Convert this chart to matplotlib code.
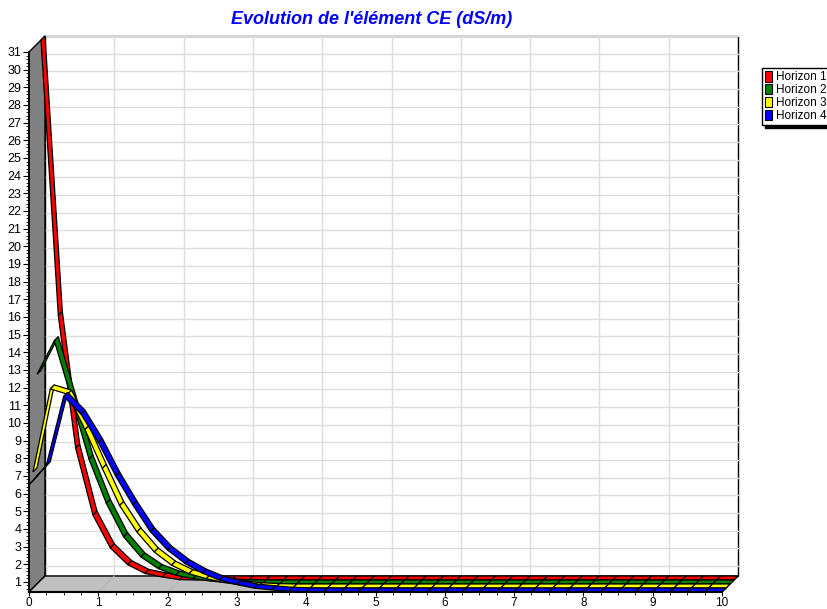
import matplotlib
matplotlib.use("Agg")
import numpy as np
import matplotlib.pyplot as plt
from matplotlib.patches import Polygon, Patch
from matplotlib.ticker import MultipleLocator

plt.rcParams['font.family'] = ['Liberation Sans', 'DejaVu Sans']

# data (one point every 0.25)
x_vals = np.linspace(0, 10, 41)

horizon_1 = [31.0, 15.4, 7.9, 4.1, 2.25, 1.3, 0.8, 0.6, 0.45, 0.43,
             0.43, 0.43, 0.43, 0.43, 0.43, 0.43, 0.43, 0.43, 0.43, 0.43,
             0.43, 0.43, 0.43, 0.43, 0.43, 0.43, 0.43, 0.43, 0.43, 0.43,
             0.43, 0.43, 0.43, 0.43, 0.43, 0.43, 0.43, 0.43, 0.43, 0.43,
             0.43]
horizon_2 = [12.3, 14.2, 10.9, 7.5, 5.0, 3.1, 1.96, 1.3, 0.93, 0.73,
             0.6, 0.5, 0.45, 0.43, 0.43, 0.43, 0.43, 0.43, 0.43, 0.43,
             0.43, 0.43, 0.43, 0.43, 0.43, 0.43, 0.43, 0.43, 0.43, 0.43,
             0.43, 0.43, 0.43, 0.43, 0.43, 0.43, 0.43, 0.43, 0.43, 0.43,
             0.43]
horizon_3 = [7.0, 11.7, 11.4, 9.4, 7.2, 5.1, 3.6, 2.47, 1.72, 1.24,
             0.96, 0.75, 0.6, 0.5, 0.45, 0.43, 0.43, 0.43, 0.43, 0.43,
             0.43, 0.43, 0.43, 0.43, 0.43, 0.43, 0.43, 0.43, 0.43, 0.43,
             0.43, 0.43, 0.43, 0.43, 0.43, 0.43, 0.43, 0.43, 0.43, 0.43,
             0.43]
horizon_4 = [6.5, 7.6, 11.5, 10.5, 8.9, 7.0, 5.35, 3.85, 2.8, 2.05,
             1.5, 1.1, 0.85, 0.65, 0.55, 0.47, 0.44, 0.43, 0.43, 0.43,
             0.43, 0.43, 0.43, 0.43, 0.43, 0.43, 0.43, 0.43, 0.43, 0.43,
             0.43, 0.43, 0.43, 0.43, 0.43, 0.43, 0.43, 0.43, 0.43, 0.43,
             0.43]

labels = ["Horizon 1", "Horizon 2", "Horizon 3", "Horizon 4"]
colors = ["#ff0000", "#008000", "#ffff00", "#0000ff"]
series = [horizon_1, horizon_2, horizon_3, horizon_4]

DEPTH = 16  # pixels of fake 3D depth
W, H = 828, 609

fig = plt.figure(figsize=(W / 100, H / 100), dpi=100)
ax = fig.add_axes([29 / W, 17 / H, 693 / W, 540 / H])
ymin = min(min(s) for s in series)
ymax = max(max(s) for s in series)
ax.set_xlim(0, 10)
ax.set_ylim(ymin, ymax)
ax.patch.set_visible(False)


def shifted(xs, ys, d):
    # push data points back by d pixels (right and up) and return data coords
    pts = ax.transData.transform(np.column_stack([xs, ys]))
    pts = pts + np.array([d, d])
    return ax.transData.inverted().transform(pts)


def poly(xs, ys, ds, **kw):
    pts = np.vstack([shifted([x], [y], d) for x, y, d in zip(xs, ys, ds)])
    ax.add_patch(Polygon(pts, closed=True, clip_on=False, **kw))


# walls
poly([0, 0, 0, 0], [ymin, ymax, ymax, ymin], [0, 0, DEPTH, DEPTH],
     facecolor="#808080", edgecolor="black", lw=1, zorder=1)
poly([0, 10, 10, 0], [ymin, ymin, ymin, ymin], [0, 0, DEPTH, DEPTH],
     facecolor="#c0c0c0", edgecolor="black", lw=1, zorder=1)
poly([0, 10, 10, 0], [ymin, ymin, ymax, ymax], [DEPTH] * 4,
     facecolor="white", edgecolor="black", lw=1, zorder=0.5)

# grid on back wall + floor
for yv in range(1, 32):
    p = shifted([0, 10], [yv, yv], DEPTH)
    ax.plot(p[:, 0], p[:, 1], color="#dcdcdc", lw=1, zorder=0.8, clip_on=False)
for xv in range(1, 10):
    p = shifted([xv, xv], [ymin, ymax], DEPTH)
    ax.plot(p[:, 0], p[:, 1], color="#dcdcdc", lw=1, zorder=0.8, clip_on=False)
    p = np.vstack([shifted([xv], [ymin], 0), shifted([xv], [ymin], DEPTH)])
    ax.plot(p[:, 0], p[:, 1], color="#b4b4b4", lw=0.8, zorder=1.2, clip_on=False)

# ribbons, back series first
nser = len(series)
for k in range(nser):
    z1 = DEPTH * (nser - k) / nser
    z0 = DEPTH * (nser - k - 1) / nser
    ys = series[k]
    for i in range(len(x_vals) - 1):
        poly([x_vals[i], x_vals[i + 1], x_vals[i + 1], x_vals[i]],
             [ys[i], ys[i + 1], ys[i + 1], ys[i]],
             [z0, z0, z1, z1],
             facecolor=colors[k], edgecolor="black", lw=0.9, zorder=2 + k)

# axes
for s in ["top", "right"]:
    ax.spines[s].set_visible(False)
ax.spines["left"].set_linewidth(1.2)
ax.spines["bottom"].set_linewidth(1.5)
ax.spines["left"].set_zorder(10)
ax.spines["bottom"].set_zorder(10)
ax.set_yticks(range(1, 32))
ax.set_xticks(range(0, 11))
ax.yaxis.set_minor_locator(MultipleLocator(0.2))
ax.xaxis.set_minor_locator(MultipleLocator(0.25))
ax.tick_params(which="major", length=4, width=0.8, labelsize=9, pad=1.5)
ax.tick_params(axis="x", which="major", length=3, labelsize=8.5, pad=0.5)
ax.tick_params(which="minor", length=2, width=0.6)

fig.text(372 / W, 1 - 20 / H, "Evolution de l'élément CE (dS/m)",
         ha="center", va="center", fontsize=13, fontweight="bold",
         fontstyle="italic", color="#0000ff")

handles = [Patch(facecolor=c, edgecolor="black", lw=0.8) for c in colors]
fig.legend(handles, labels, loc="upper left",
           bbox_to_anchor=(762 / W, 1 - 68 / H), fontsize=8.5,
           frameon=True, fancybox=False, edgecolor="black", framealpha=1,
           borderpad=0.25, labelspacing=0.05, handlelength=0.6,
           handleheight=1.0, handletextpad=0.3, borderaxespad=0,
           shadow={"color": "black", "alpha": 1})

fig.savefig("out.png", dpi=100)
